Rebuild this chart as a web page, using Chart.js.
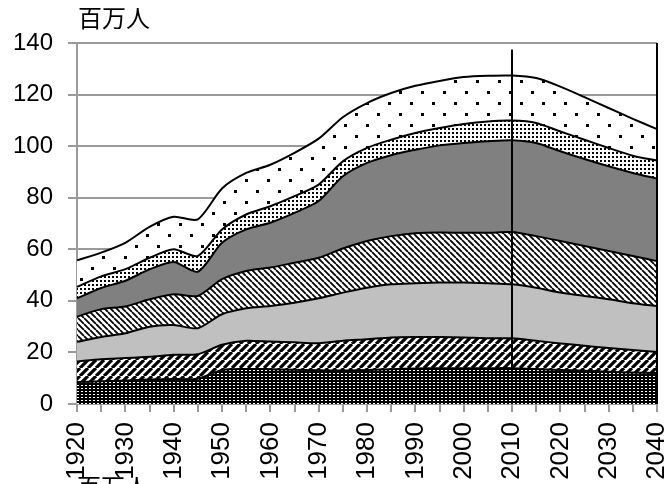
<!DOCTYPE html>
<html>
<head>
<meta charset="utf-8">
<script src="https://cdn.jsdelivr.net/npm/chart.js@4.4.0/dist/chart.umd.min.js"></script>
<style>
  html, body { margin: 0; padding: 0; background: #fff; overflow: hidden; }
  #wrap { width: 667px; height: 484px; }
</style>
</head>
<body>
<div id="wrap"><canvas id="chart" width="667" height="484"></canvas></div>
<script>
// 5-year steps, 1920-2040
const years = ['1920', '1925', '1930', '1935', '1940', '1945', '1950', '1955', '1960', '1965',
               '1970', '1975', '1980', '1985', '1990', '1995', '2000', '2005', '2010', '2015',
               '2020', '2025', '2030', '2035', '2040'];

// stacked layers, bottom to top (millions)
const layer1 = [8.5, 8.8, 9.1, 9.5, 9.7, 9.8, 13.2, 13.6, 13.5, 13.3, 13.1, 13.0, 13.2, 13.5, 13.8, 13.9, 13.9, 13.9, 13.9, 13.6, 13.2, 12.9, 12.5, 12.2, 12.0];
const layer2 = [8.0, 8.6, 8.7, 8.8, 9.4, 9.5, 9.8, 10.9, 10.7, 10.6, 10.5, 11.5, 11.9, 12.3, 12.2, 12.1, 11.9, 11.6, 11.6, 10.9, 10.3, 9.7, 9.2, 8.7, 8.2];
const layer3 = [7.6, 8.6, 9.6, 11.7, 11.5, 10.1, 11.8, 12.6, 13.8, 15.4, 17.4, 18.7, 20.0, 20.6, 20.8, 21.1, 21.3, 21.3, 20.9, 20.6, 19.7, 19.3, 18.9, 18.2, 17.8];
const layer4 = [9.8, 10.8, 10.4, 10.6, 12.0, 12.5, 13.6, 14.5, 14.9, 15.5, 15.7, 17.1, 18.1, 18.7, 19.4, 19.4, 19.3, 19.6, 20.3, 20.0, 20.0, 19.4, 18.7, 18.3, 17.4];
const layer5 = [7.1, 8.2, 10.0, 11.6, 12.5, 9.4, 14.1, 16.1, 17.4, 19.3, 22.0, 28.0, 30.3, 31.4, 32.4, 33.8, 34.8, 35.5, 35.6, 36.1, 34.8, 33.7, 32.9, 32.2, 32.0];
const layer6 = [4.4, 4.5, 4.5, 4.5, 4.9, 6.1, 5.2, 5.8, 6.4, 6.5, 6.4, 5.8, 5.8, 6.0, 6.5, 6.7, 7.4, 7.7, 7.6, 7.8, 7.7, 7.5, 7.1, 6.7, 7.0];
const layer7 = [10.3, 9.2, 10.2, 12.0, 12.6, 14.2, 15.9, 16.1, 16.1, 16.8, 17.8, 17.1, 17.4, 18.1, 18.3, 18.3, 18.2, 17.7, 17.5, 17.4, 17.4, 16.5, 15.5, 14.3, 12.2];

const yTicks = [0, 20, 40, 60, 80, 100, 120, 140];
const unitLabel = '百万人';
const markYear = '2010';

// small tiled fills
function makePattern(w, h, paint) {
    const c = document.createElement('canvas');
    c.width = w;
    c.height = h;
    const g = c.getContext('2d');
    paint(g, w, h);
    return document.getElementById('chart').getContext('2d').createPattern(c, 'repeat');
}

function hatch(size, width, forward) {
    return makePattern(size, size, (g, w, h) => {
        g.fillStyle = '#fff';
        g.fillRect(0, 0, w, h);
        g.strokeStyle = '#000';
        g.lineWidth = width;
        g.beginPath();
        for (let k = -1; k <= 1; k++) {
            if (forward) {
                g.moveTo(k * w, h);
                g.lineTo(k * w + h, 0);
            } else {
                g.moveTo(k * w, 0);
                g.lineTo(k * w + h, h);
            }
        }
        g.stroke();
    });
}

const fills = [
    makePattern(4, 3, (g) => {
        g.fillStyle = '#000';
        g.fillRect(0, 0, 4, 3);
        g.fillStyle = '#fff';
        g.fillRect(1, 1, 2, 1);
    }),
    hatch(8, 3.2, true),
    '#c0c0c0',
    hatch(6, 1.8, false),
    '#808080',
    makePattern(4, 4, (g) => {
        g.fillStyle = '#fff';
        g.fillRect(0, 0, 4, 4);
        g.fillStyle = '#000';
        g.fillRect(0, 0, 2, 2);
    }),
    makePattern(22, 22, (g) => {
        g.fillStyle = '#fff';
        g.fillRect(0, 0, 22, 22);
        g.fillStyle = '#000';
        g.fillRect(3, 3, 3, 3);
        g.fillRect(14, 14, 3, 3);
    })
];

const layers = [layer1, layer2, layer3, layer4, layer5, layer6, layer7];

const datasets = layers.map((values, i) => ({
    data: values,
    backgroundColor: fills[i],
    borderColor: '#000',
    borderWidth: 2,
    pointRadius: 0,
    tension: 0.25,
    fill: i === 0 ? 'origin' : '-1'
}));

const overlay = {
    id: 'overlay',
    afterDatasetsDraw(chart) {
        const { ctx, chartArea, scales } = chart;
        ctx.save();
        ctx.strokeStyle = '#000';
        ctx.lineWidth = 2;
        // projection divider
        const xm = scales.x.getPixelForValue(years.indexOf(markYear));
        ctx.beginPath();
        ctx.moveTo(xm, scales.y.getPixelForValue(137.5));
        ctx.lineTo(xm, chartArea.bottom);
        ctx.stroke();
        // right edge
        ctx.beginPath();
        ctx.moveTo(chartArea.right, chartArea.top);
        ctx.lineTo(chartArea.right, chartArea.bottom);
        ctx.stroke();
        ctx.restore();
    },
    afterDraw(chart) {
        const ctx = chart.ctx;
        ctx.save();
        ctx.fillStyle = '#000';
        ctx.font = '24px "Noto Sans CJK JP"';
        ctx.textBaseline = 'top';
        ctx.textAlign = 'left';
        ctx.fillText(unitLabel, 78, 6);
        ctx.fillText(unitLabel, 77, 475);
        ctx.restore();
    }
};

Chart.defaults.font.family = '"Liberation Sans", Arial, sans-serif';
Chart.defaults.color = '#000';

new Chart(document.getElementById('chart'), {
    type: 'line',
    data: { labels: years, datasets: datasets },
    plugins: [overlay],
    options: {
        responsive: false,
        animation: false,
        layout: { padding: { left: 0, right: 10, top: 43, bottom: 0 } },
        plugins: {
            legend: { display: false },
            tooltip: { enabled: false }
        },
        scales: {
            x: {
                offset: false,
                afterFit: (s) => { s.height = 80; s.paddingLeft = 0; s.paddingRight = 0; },
                grid: { drawOnChartArea: false, color: '#9a9a9a', lineWidth: 2, tickLength: 8 },
                border: { color: '#9a9a9a', width: 2 },
                ticks: {
                    autoSkip: false,
                    maxRotation: 90,
                    minRotation: 90,
                    padding: 10,
                    font: { size: 26 },
                    callback: (v, i) => (i % 2 === 0 ? years[i] : '')
                }
            },
            y: {
                stacked: true,
                min: 0,
                max: 140,
                afterFit: (s) => { s.width = 77; },
                afterBuildTicks: (axis) => { axis.ticks = yTicks.map(v => ({ value: v })); },
                grid: { color: '#9a9a9a', lineWidth: 2, tickLength: 9 },
                border: { color: '#9a9a9a', width: 2 },
                ticks: { padding: 15, font: { size: 24 } }
            }
        }
    }
});
</script>
</body>
</html>
